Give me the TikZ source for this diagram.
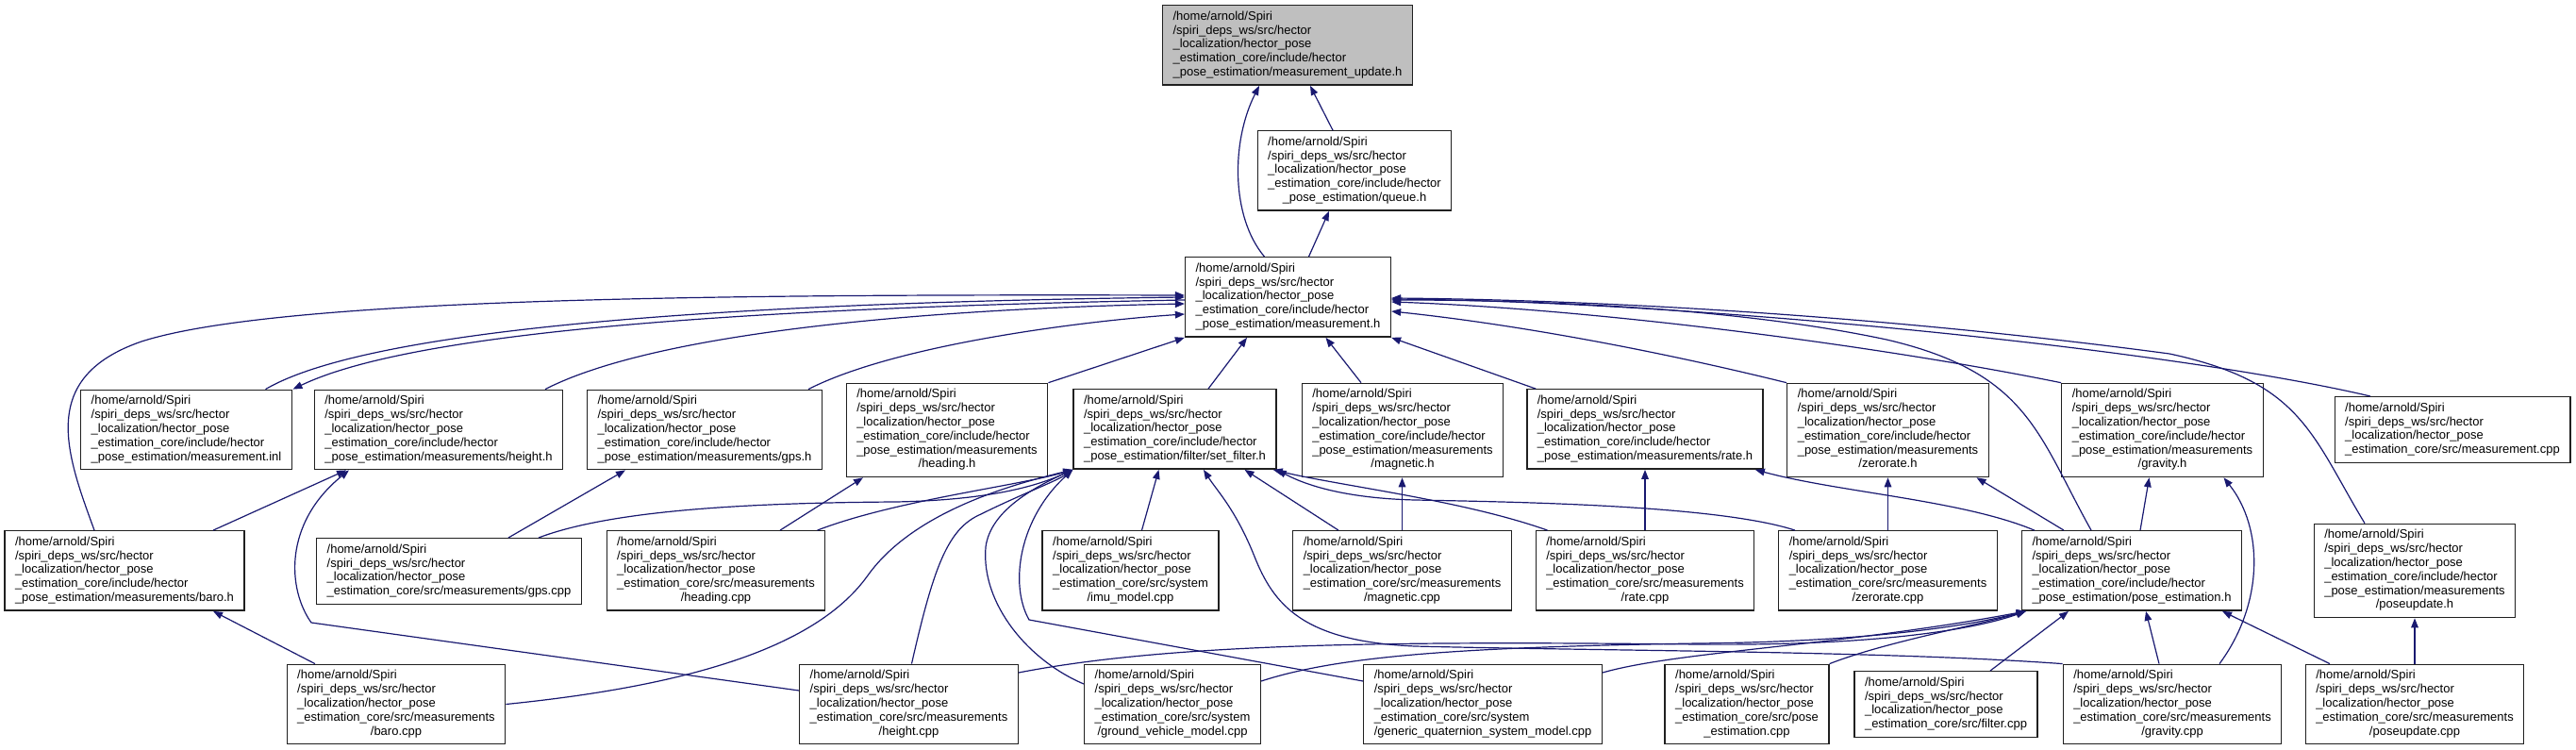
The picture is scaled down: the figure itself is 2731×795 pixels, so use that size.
\documentclass[tikz,border=0pt]{standalone}
\usepackage{fontspec}
\setmainfont{Liberation Sans}
\usetikzlibrary{arrows.meta,calc}
\definecolor{edge}{HTML}{191970}
\definecolor{frame}{HTML}{202020}
\definecolor{current}{HTML}{BFBFBF}

% path prefixes shared by every file box
\newcommand{\hd}{/home/arnold/Spiri\\/spiri\_deps\_ws/src/hector\\\_localization/hector\_pose}
\newcommand{\inc}{\hd\\\_estimation\_core/include/hector}
\newcommand{\srcm}{\hd\\\_estimation\_core/src/measurements}
\newcommand{\srcs}{\hd\\\_estimation\_core/src/system}
\newcommand{\fl}[2]{\begin{tabular}{@{}l@{}}#1\\\multicolumn{1}{@{}c@{}}{#2}\end{tabular}}

\begin{document}
\begin{tikzpicture}[x=0.5pt,y=-0.5pt,
  file/.style={draw=frame,fill=white,line width=0.7pt,inner xsep=5.5pt,inner ysep=2.6pt,
    font=\fontsize{6.5}{7.4}\selectfont},
  currentfile/.style={file,fill=current},
  dep/.style={draw=edge,line width=0.6pt,-{Triangle[length=5pt,width=3.8pt]}}]
\useasboundingbox (0,0) rectangle (2731,795);

% rows of file boxes, top to bottom
\node[currentfile] (update) at (1365,48) {\fl{\inc}{\_pose\_estimation/measurement\_update.h}};
\node[file] (queue) at (1436,181) {\fl{\inc}{\_pose\_estimation/queue.h}};
\node[file] (meash) at (1365.5,315) {\fl{\inc}{\_pose\_estimation/measurement.h}};

\node[file] (inl) at (197.5,455.5) {\fl{\inc}{\_pose\_estimation/measurement.inl}};
\node[file] (heighth) at (465,455.5) {\fl{\inc}{\_pose\_estimation/measurements/height.h}};
\node[file] (gpsh) at (747,455.5) {\fl{\inc}{\_pose\_estimation/measurements/gps.h}};
\node[file] (headingh) at (1004,456) {\fl{\inc\\\_pose\_estimation/measurements}{/heading.h}};
\node[file] (setfilter) at (1245.5,455) {\fl{\inc}{\_pose\_estimation/filter/set\_filter.h}};
\node[file] (magneth) at (1487,456) {\fl{\inc\\\_pose\_estimation/measurements}{/magnetic.h}};
\node[file] (rateh) at (1744,455) {\fl{\inc}{\_pose\_estimation/measurements/rate.h}};
\node[file] (zerorateh) at (2001.5,456) {\fl{\inc\\\_pose\_estimation/measurements}{/zerorate.h}};
\node[file] (gravityh) at (2292.5,456) {\fl{\inc\\\_pose\_estimation/measurements}{/gravity.h}};
\node[file] (meascpp) at (2600,455.5) {\fl{\hd}{\_estimation\_core/src/measurement.cpp}};

\node[file] (baroh) at (132,605) {\fl{\inc}{\_pose\_estimation/measurements/baro.h}};
\node[file] (gpscpp) at (476,605.5) {\fl{\hd}{\_estimation\_core/src/measurements/gps.cpp}};
\node[file] (headingcpp) at (759,605) {\fl{\srcm}{/heading.cpp}};
\node[file] (imucpp) at (1198.5,605) {\fl{\srcs}{/imu\_model.cpp}};
\node[file] (magnetcpp) at (1486.5,605) {\fl{\srcm}{/magnetic.cpp}};
\node[file] (ratecpp) at (1744,605) {\fl{\srcm}{/rate.cpp}};
\node[file] (zeroratecpp) at (2001.5,605) {\fl{\srcm}{/zerorate.cpp}};
\node[file] (poseh) at (2260,605) {\fl{\inc}{\_pose\_estimation/pose\_estimation.h}};
\node[file] (poseupdh) at (2560,605) {\fl{\inc\\\_pose\_estimation/measurements}{/poseupdate.h}};

\node[file] (barocpp) at (420,746.5) {\fl{\srcm}{/baro.cpp}};
\node[file] (heightcpp) at (963.5,746.5) {\fl{\srcm}{/height.cpp}};
\node[file] (groundcpp) at (1243,746.5) {\fl{\srcs}{/ground\_vehicle\_model.cpp}};
\node[file] (genericcpp) at (1572,746.5) {\fl{\srcs}{/generic\_quaternion\_system\_model.cpp}};
\node[file] (posecpp) at (1852,746.5) {\fl{\hd\\\_estimation\_core/src/pose}{\_estimation.cpp}};
\node[file] (filtercpp) at (2063,746.5) {\fl{\hd}{\_estimation\_core/src/filter.cpp}};
\node[file] (gravitycpp) at (2303,746.5) {\fl{\srcm}{/gravity.cpp}};
\node[file] (poseupdcpp) at (2560,746.5) {\fl{\srcm}{/poseupdate.cpp}};

% includes of measurement_update.h and queue.h
\draw[dep] ($(queue.north)+(-23,0)$) -- ($(update.south)+(24,0)$);
\draw[dep] ($(meash.north)+(-25,0)$) .. controls (1305,230) and (1305,150) .. ($(update.south)+(-30,0)$);
\draw[dep] ($(meash.north)+(22,0)$) -- ($(queue.south)+(-27,0)$);

% everything that includes measurement.h
\draw[dep] ($(inl.north)+(84,0)$) .. controls (380,355) and (700,322) .. (meash.west);
\draw[dep] ($(meash.west)+(0,3)$) .. controls (700,328) and (420,360) .. ($(inl.north)+(113,0)$);
\draw[dep] ($(baroh.north)+(-32,0)$) .. controls (70,480) and (40,400) .. (150,362)
  .. controls (300,314) and (800,312) .. ($(meash.west)+(0,-2)$);
\draw[dep] ($(heighth.north)+(113,0)$) .. controls (700,350) and (1000,327) .. ($(meash.west)+(0,7)$);
\draw[dep] ($(gpsh.north)+(110,0)$) .. controls (950,365) and (1150,340) .. ($(meash.west)+(0,18)$);
\draw[dep] (headingh.north east) -- (meash.south west);
\draw[dep] ($(setfilter.north)+(35.5,0)$) -- ($(meash.south)+(-43.5,0)$);
\draw[dep] ($(magneth.north)+(-44,0)$) -- ($(meash.south)+(40,0)$);
\draw[dep] ($(rateh.north west)+(10,0)$) -- (meash.south east);
\draw[dep] (zerorateh.north west) .. controls (1750,370) and (1600,343) .. ($(meash.east)+(0,15)$);
\draw[dep] (gravityh.north west) .. controls (2000,368) and (1700,328) .. ($(meash.east)+(0,5)$);
\draw[dep] ($(meascpp.north)+(-87,0)$) .. controls (2300,370) and (1800,320) .. ($(meash.east)+(0,2)$);
\draw[dep] ($(poseh.north)+(-43,0)$) .. controls (2160,460) and (2150,395) .. (2000,360)
  .. controls (1850,328) and (1650,318) .. ($(meash.east)+(0,3)$);
\draw[dep] ($(poseupdh.north)+(-53,0)$) .. controls (2450,460) and (2440,405) .. (2300,375)
  .. controls (2000,335) and (1700,318) .. ($(meash.east)+(0,1)$);

% measurement headers and their sources
\draw[dep] ($(baroh.north)+(94,0)$) -- ($(heighth.south)+(-98,0)$);
\draw[dep] ($(heightcpp.west)+(0,-14.5)$) -- (330,660) .. controls (305,625) and (300,555) .. ($(heighth.south)+(-95,0)$);
\draw[dep] ($(gpscpp.north)+(63,0)$) -- ($(gpsh.south)+(-84,0)$);
\draw[dep] ($(headingcpp.north)+(68,0)$) -- ($(headingh.south)+(-89,0)$);
\draw[dep] ($(barocpp.north)+(-86,0)$) -- ($(baroh.south)+(94,0)$);
\draw[dep] (magnetcpp.north) -- (magnetcpp.north |- magneth.south);
\draw[dep] (ratecpp.north) -- (rateh.south);
\draw[dep] (zeroratecpp.north) -- (zerorateh.south);
\draw[dep] (poseupdcpp.north) -- (poseupdh.south);

% sources that include set_filter.h
\draw[dep] ($(gpscpp.north)+(95,0)$) .. controls (650,540) and (800,533) .. (950,532)
  .. controls (1050,530) and (1100,515) .. (setfilter.south west);
\draw[dep] ($(headingcpp.north east)+(-9,0)$) .. controls (950,530) and (1080,515) .. (setfilter.south west);
\draw[dep] (barocpp.east) .. controls (750,725) and (870,680) .. (920,610)
  .. controls (970,540) and (1080,512) .. (setfilter.south west);
\draw[dep] ($(heightcpp.north)+(3,0)$) .. controls (990,600) and (1005,560) .. (1040,545)
  .. controls (1080,525) and (1120,510) .. (setfilter.south west);
\draw[dep] ($(groundcpp.west)+(0,-21.5)$) .. controls (1090,700) and (1040,640) .. (1045,580)
  .. controls (1050,540) and (1100,515) .. (setfilter.south west);
\draw[dep] ($(genericcpp.west)+(0,-24.5)$) -- (1091,657) .. controls (1070,620) and (1080,550) .. (setfilter.south west);
\draw[dep] ($(imucpp.north)+(12,0)$) -- ($(setfilter.south)+(-17,0)$);
\draw[dep] (gravitycpp.north west) .. controls (2000,690) and (1700,690) .. (1500,685)
  .. controls (1380,680) and (1350,640) .. (1330,590)
  .. controls (1310,540) and (1290,520) .. ($(setfilter.south)+(30.5,0)$);
\draw[dep] ($(magnetcpp.north)+(-67.5,0)$) -- ($(setfilter.south)+(74,0)$);
\draw[dep] ($(ratecpp.north west)+(13,0)$) .. controls (1550,530) and (1420,515) .. ($(setfilter.south east)+(-4,0)$);
\draw[dep] ($(zeroratecpp.north west)+(18,0)$) .. controls (1820,535) and (1600,532) .. (1500,530)
  .. controls (1420,528) and (1380,512) .. (setfilter.south east);

% pose_estimation.h and what it pulls in
\draw[dep] ($(poseh.north west)+(14,0)$) .. controls (2080,530) and (1950,522) .. ($(rateh.south east)+(-9,0)$);
\draw[dep] ($(poseh.north)+(-72,0)$) -- ($(zerorateh.south)+(94,0)$);
\draw[dep] ($(poseh.north)+(9,0)$) -- ($(gravityh.south)+(-14,0)$);
\draw[dep] ($(gravitycpp.north)+(50,0)$) .. controls (2400,640) and (2400,560) .. ($(gravityh.south)+(65,0)$);
\draw[dep] (posecpp.north east) .. controls (2000,680) and (2100,662) .. ($(poseh.south west)+(5,0)$);
\draw[dep] ($(filtercpp.north)+(47,0)$) -- ($(poseh.south)+(-67,0)$);
\draw[dep] ($(gravitycpp.north)+(-14,0)$) -- ($(poseh.south)+(15,0)$);
\draw[dep] ($(poseupdcpp.north)+(-90,0)$) -- ($(poseh.south)+(96,0)$);
\draw[dep] ($(heightcpp.east)+(0,-33.5)$) .. controls (1250,680) and (1500,680) .. (1800,683)
  .. controls (2000,685) and (2100,665) .. ($(poseh.south west)+(5,0)$);
\draw[dep] ($(groundcpp.east)+(0,-24.5)$) .. controls (1420,695) and (1550,686) .. (1800,682)
  .. controls (2000,680) and (2100,660) .. ($(poseh.south west)+(5,0)$);
\draw[dep] ($(genericcpp.east)+(0,-33.5)$) .. controls (1780,690) and (1950,685) .. ($(poseh.south west)+(5,0)$);
\end{tikzpicture}
\end{document}
